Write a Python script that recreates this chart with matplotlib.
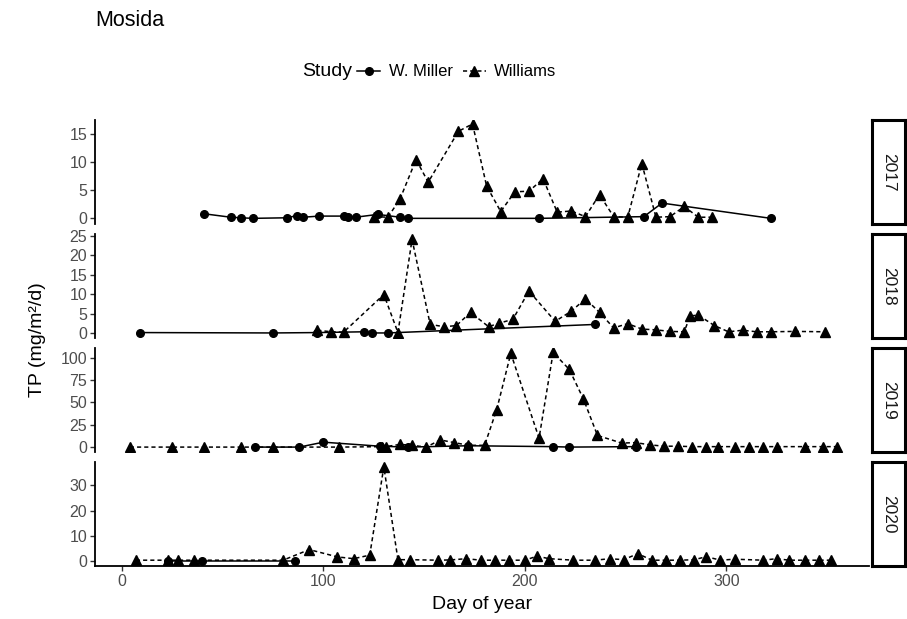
import matplotlib.pyplot as plt
from matplotlib.lines import Line2D

plt.rcParams['font.family'] = ['Liberation Sans', 'DejaVu Sans']

# Data afläst fra figuren (dag på året, TP i mg/m2/d)
years = ['2017', '2018', '2019', '2020']

miller_2017_day = [41, 54, 59, 65, 82, 87, 90, 98, 110, 112, 116, 127, 138, 142, 207, 259, 268, 322]
miller_2017_tp = [0.8, 0.2, 0.1, 0.0, 0.1, 0.5, 0.2, 0.4, 0.4, 0.2, 0.2, 0.7, 0.2, 0.0, 0.0, 0.3, 2.7, 0.0]
williams_2017_day = [125, 132, 138, 146, 152, 167, 174, 181, 188, 195, 202, 209, 216, 223, 230, 237,
                     244, 251, 258, 265, 272, 279, 286, 293]
williams_2017_tp = [0.3, 0.2, 3.4, 10.4, 6.4, 15.4, 16.7, 5.7, 1.2, 4.7, 4.8, 7.0, 1.1, 1.3, 0.3, 4.2,
                    0.3, 0.2, 9.7, 0.2, 0.3, 2.1, 0.2, 0.2]

miller_2018_day = [9, 75, 97, 120, 124, 132, 235]
miller_2018_tp = [0.1, 0.0, 0.1, 0.3, 0.0, 0.0, 2.2]
williams_2018_day = [97, 104, 110, 130, 137, 144, 153, 160, 166, 173, 182, 187, 194, 202, 215, 223, 230,
                     237, 244, 251, 258, 265, 272, 279, 282, 286, 294, 301, 308, 315, 322, 334, 349]
williams_2018_tp = [0.7, 0.3, 0.2, 9.9, 0.1, 24.1, 2.2, 1.6, 1.9, 5.3, 1.6, 2.5, 3.5, 10.8, 3.0, 5.6, 8.8,
                    5.3, 1.3, 2.4, 1.0, 0.8, 0.4, 0.3, 4.4, 4.6, 1.9, 0.3, 0.7, 0.3, 0.3, 0.4, 0.3]

miller_2019_day = [66, 88, 100, 128, 142, 172, 214, 222, 255]
miller_2019_tp = [0.0, 0.0, 5.5, 1.0, 0.0, 1.5, 0.5, 0.0, 0.5]
williams_2019_day = [4, 25, 41, 59, 75, 108, 129, 131, 138, 144, 151, 158, 165, 172, 180, 186, 193, 207,
                     214, 222, 229, 236, 248, 255, 262, 269, 276, 283, 290, 296, 304, 311, 318, 325,
                     339, 348, 355]
williams_2019_tp = [0.0, 0.0, 0.0, 0.0, 0.0, 0.0, 0.5, 0.5, 3.0, 2.0, 0.0, 8.0, 5.0, 2.0, 2.0, 42.0, 105.0,
                    10.0, 106.0, 87.0, 54.0, 13.0, 4.5, 5.0, 2.5, 1.0, 1.0, 0.5, 0.5, 0.5, 0.5, 0.5,
                    0.5, 0.5, 0.5, 0.5, 0.5]

miller_2020_day = [23, 40, 86]
miller_2020_tp = [0.0, 0.0, 0.0]
williams_2020_day = [7, 23, 28, 36, 80, 93, 107, 115, 123, 130, 137, 143, 157, 163, 171, 178, 185, 192,
                     200, 206, 212, 224, 235, 242, 249, 256, 263, 270, 277, 284, 290, 297, 304, 318,
                     325, 331, 339, 346, 352]
williams_2020_tp = [0.4, 0.4, 0.4, 0.4, 0.4, 4.6, 1.7, 1.0, 2.4, 37.4, 0.6, 0.6, 0.4, 0.5, 1.0, 0.4, 0.4,
                    0.4, 0.4, 2.0, 1.0, 0.4, 0.4, 1.0, 0.6, 3.0, 0.4, 0.4, 0.4, 0.6, 1.8, 0.4, 0.8,
                    0.4, 1.0, 0.4, 0.4, 0.4, 0.4]

miller_days = [miller_2017_day, miller_2018_day, miller_2019_day, miller_2020_day]
miller_tps = [miller_2017_tp, miller_2018_tp, miller_2019_tp, miller_2020_tp]
williams_days = [williams_2017_day, williams_2018_day, williams_2019_day, williams_2020_day]
williams_tps = [williams_2017_tp, williams_2018_tp, williams_2019_tp, williams_2020_tp]

y_ticks = [[0, 5, 10, 15], [0, 5, 10, 15, 20, 25], [0, 25, 50, 75, 100], [0, 10, 20, 30]]
y_limits = [(-1.0, 17.4), (-1.3, 25.5), (-5.5, 111), (-1.9, 39.3)]
x_ticks = [0, 100, 200, 300]

W, H = 907, 619
fig = plt.figure(figsize=(W / 100, H / 100), dpi=100)

dash = (0, (2.7, 2.0))
grey = '#4D4D4D'

for i, year in enumerate(years):
    top = 120 + 114 * i
    bottom = 1 - (top + 104) / H
    ax = fig.add_axes([95 / W, bottom, (869 - 95) / W, 104 / H])

    ax.plot(miller_days[i], miller_tps[i], color='black', lw=1.1, marker='o', ms=5.5)
    ax.plot(williams_days[i], williams_tps[i], color='black', lw=1.1, linestyle=dash, marker='^', ms=7)

    ax.set_xlim(-13.3, 370.7)
    ax.set_ylim(*y_limits[i])
    ax.set_yticks(y_ticks[i])
    ax.tick_params(axis='both', labelsize=11.5, labelcolor=grey, color='#333333', length=3.5, width=1.0,
                   pad=2)

    ax.spines['top'].set_visible(False)
    ax.spines['right'].set_visible(False)
    ax.spines['left'].set_linewidth(1.3)
    if i < 3:
        ax.spines['bottom'].set_visible(False)
        ax.set_xticks([])
    else:
        ax.spines['bottom'].set_linewidth(1.3)
        ax.set_xticks(x_ticks)
        ax.set_xlabel('Day of year', fontsize=14, labelpad=5)

    # strip med årstal til højre
    strip = fig.add_axes([872 / W, bottom, 33 / W, 104 / H])
    strip.set_xticks([])
    strip.set_yticks([])
    for s in strip.spines.values():
        s.set_linewidth(2.2)
    strip.text(0.5, 0.5, year, rotation=270, ha='center', va='center', fontsize=12.5, color='#1A1A1A',
               transform=strip.transAxes)

fig.text(38 / W, 1 - 340 / H, 'TP (mg/m²/d)', rotation=90, ha='center', va='center', fontsize=14)
fig.text(95 / W, 1 - 21 / H, 'Mosida', ha='left', va='center', fontsize=15.5)

# legende øverst
fig.text(302 / W, 1 - 72 / H, 'Study', ha='left', va='center', fontsize=14)
handles = [Line2D([], [], color='black', lw=1.1, marker='o', ms=5.5),
           Line2D([], [], color='black', lw=1.1, linestyle=dash, marker='^', ms=7)]
fig.legend(handles, ['W. Miller', 'Williams'], ncol=2, loc='center left',
           bbox_to_anchor=(357 / W, 1 - 72 / H), frameon=False, fontsize=12,
           borderaxespad=0, borderpad=0,
           handlelength=1.4, handletextpad=0.5, columnspacing=0.6)

fig.savefig('out.png', dpi=100)
